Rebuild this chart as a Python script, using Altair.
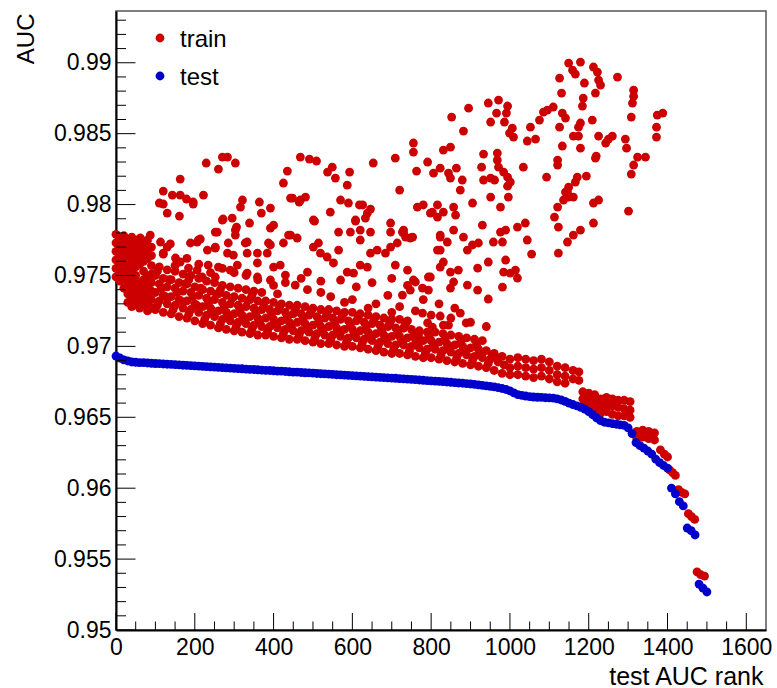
import altair as alt
import pandas as pd

RED = "#cc0000"
BLUE = "#0000cc"
FONT = "Liberation Sans"

X_DOMAIN = [0, 1650]
Y_DOMAIN = [0.95, 0.99365]

# test AUC, one value every 10 ranks (rank 0 .. 1500)
test_auc = [
    0.96932, 0.96918, 0.96905, 0.96897, 0.96890, 0.96888, 0.96886, 0.96885, 0.96883, 0.96881,
    0.96879, 0.96878, 0.96876, 0.96874, 0.96873, 0.96871, 0.96869, 0.96867, 0.96866, 0.96864,
    0.96862, 0.96861, 0.96859, 0.96857, 0.96855, 0.96854, 0.96852, 0.96850, 0.96849, 0.96847,
    0.96845, 0.96843, 0.96842, 0.96840, 0.96838, 0.96837, 0.96835, 0.96833, 0.96831, 0.96830,
    0.96828, 0.96826, 0.96825, 0.96823, 0.96821, 0.96819, 0.96818, 0.96816, 0.96814, 0.96813,
    0.96811, 0.96809, 0.96807, 0.96806, 0.96804, 0.96802, 0.96800, 0.96799, 0.96797, 0.96795,
    0.96794, 0.96792, 0.96790, 0.96788, 0.96787, 0.96785, 0.96783, 0.96782, 0.96780, 0.96778,
    0.96776, 0.96775, 0.96773, 0.96771, 0.96769, 0.96767, 0.96765, 0.96763, 0.96761, 0.96759,
    0.96757, 0.96755, 0.96753, 0.96751, 0.96749, 0.96747, 0.96745, 0.96742, 0.96740, 0.96737,
    0.96735, 0.96732, 0.96729, 0.96725, 0.96722, 0.96718, 0.96714, 0.96709, 0.96703, 0.96696,
    0.96686, 0.96672, 0.96660, 0.96654, 0.96650, 0.96646, 0.96643, 0.96641, 0.96640, 0.96638,
    0.96637, 0.96635, 0.96630, 0.96622, 0.96612, 0.96600, 0.96590, 0.96580, 0.96570, 0.96558,
    0.96540, 0.96518, 0.96495, 0.96477, 0.96465, 0.96460, 0.96455, 0.96451, 0.96447, 0.96443,
    0.96425, 0.96385, 0.96322, 0.96300, 0.96283, 0.96262, 0.96240, 0.96205, 0.96180, 0.96160,
    0.96142, 0.96001, 0.95960, 0.95905, 0.95875, 0.95719, 0.95700, 0.95670, 0.95324, 0.95295,
    0.95268,
]
test_rank = list(range(0, 10 * len(test_auc), 10))

# train AUC: (rank, auc)
red_band_left = [
    (0, 0.9779), (0, 0.9773), (0, 0.9767), (0, 0.9761), (0, 0.9755), (0, 0.9749),
    (10, 0.9776), (10, 0.9770), (10, 0.9764), (10, 0.9758), (10, 0.9752), (10, 0.9746),
    (20, 0.9778), (20, 0.9772), (20, 0.9766), (20, 0.9760), (20, 0.9754), (20, 0.9748), (20, 0.9741),
    (30, 0.9775), (30, 0.9769), (30, 0.9763), (30, 0.9757), (30, 0.9751), (30, 0.9744), (30, 0.9737), (30, 0.9731),
    (40, 0.9777), (40, 0.9771), (40, 0.9765), (40, 0.9759), (40, 0.9753), (40, 0.9747), (40, 0.9740), (40, 0.9734), (40, 0.9728),
    (50, 0.9774), (50, 0.9768), (50, 0.9762), (50, 0.9756), (50, 0.9750), (50, 0.9743), (50, 0.9736), (50, 0.9730),
    (60, 0.9776), (60, 0.9770), (60, 0.9764), (60, 0.9758), (60, 0.9745), (60, 0.9739), (60, 0.9733), (60, 0.9727),
    (70, 0.9772), (70, 0.9766), (70, 0.9760), (70, 0.9753), (70, 0.9747), (70, 0.9741), (70, 0.9735), (70, 0.9729),
    (80, 0.9775), (80, 0.9768), (80, 0.9762), (80, 0.9749), (80, 0.9743), (80, 0.9737), (80, 0.9731), (80, 0.9725),
    (90, 0.9770), (90, 0.9764), (90, 0.9757), (90, 0.9751), (90, 0.9745), (90, 0.9739), (90, 0.9733), (90, 0.9727),
]

red_band = [
    (100, 0.9726), (110, 0.9732), (100, 0.9738), (110, 0.9744), (100, 0.9750), (110, 0.9756),
    (120, 0.9724), (130, 0.9730), (120, 0.9736), (130, 0.9742), (120, 0.9748), (130, 0.9754),
    (140, 0.9723), (150, 0.9729), (140, 0.9735), (150, 0.9741), (140, 0.9747), (150, 0.9753),
    (160, 0.9721), (170, 0.9727), (160, 0.9733), (170, 0.9739), (160, 0.9745), (170, 0.9751),
    (180, 0.9720), (190, 0.9726), (180, 0.9732), (190, 0.9738), (180, 0.9744), (190, 0.9750),
    (200, 0.9718), (210, 0.9724), (200, 0.9730), (210, 0.9736), (200, 0.9742), (210, 0.9748),
    (220, 0.9716), (230, 0.9722), (220, 0.9728), (230, 0.9734), (220, 0.9740), (230, 0.9746),
    (240, 0.9715), (250, 0.9721), (240, 0.9727), (250, 0.9733), (240, 0.9739), (250, 0.9745),
    (260, 0.9713), (270, 0.9719), (260, 0.9725), (270, 0.9731), (260, 0.9737), (270, 0.9743),
    (280, 0.9712), (290, 0.9718), (280, 0.9724), (290, 0.9730), (280, 0.9736), (290, 0.9742),
    (300, 0.9711), (310, 0.9717), (300, 0.9723), (310, 0.9729), (300, 0.9735), (310, 0.9741),
    (320, 0.9710), (330, 0.9716), (320, 0.9722), (330, 0.9728), (320, 0.9734), (330, 0.9740),
    (340, 0.9709), (350, 0.9715), (340, 0.9721), (350, 0.9727), (340, 0.9733), (350, 0.9739),
    (360, 0.9708), (370, 0.9714), (360, 0.9720), (370, 0.9726), (360, 0.9732), (370, 0.9738),
    (380, 0.9708), (390, 0.9714), (380, 0.9720), (390, 0.9726), (380, 0.9732),
    (400, 0.9707), (410, 0.9713), (400, 0.9719), (410, 0.9725), (400, 0.9731), (410, 0.9737),
    (420, 0.9706), (430, 0.9712), (420, 0.9718), (430, 0.9724), (420, 0.9730),
    (440, 0.9705), (450, 0.9711), (440, 0.9717), (450, 0.9723), (440, 0.9729),
    (460, 0.9705), (470, 0.9711), (460, 0.9717), (470, 0.9723), (460, 0.9729),
    (480, 0.9704), (490, 0.9710), (480, 0.9716), (490, 0.9722), (480, 0.9728),
    (500, 0.9703), (510, 0.9709), (500, 0.9715), (510, 0.9721), (500, 0.9727),
    (520, 0.9702), (530, 0.9708), (520, 0.9714), (530, 0.9720), (520, 0.9726),
    (540, 0.9702), (550, 0.9708), (540, 0.9714), (550, 0.9720), (540, 0.9726),
    (560, 0.9701), (570, 0.9707), (560, 0.9713), (570, 0.9719), (560, 0.9725),
    (580, 0.9700), (590, 0.9706), (580, 0.9712), (590, 0.9718), (580, 0.9724),
    (600, 0.9700), (610, 0.9706), (600, 0.9712), (610, 0.9718), (600, 0.9724),
    (620, 0.9699), (630, 0.9705), (620, 0.9711), (630, 0.9717), (620, 0.9723),
    (640, 0.9698), (650, 0.9704), (640, 0.9710), (650, 0.9716), (640, 0.9722),
    (660, 0.9697), (670, 0.9703), (660, 0.9709), (670, 0.9715), (660, 0.9721),
    (680, 0.9696), (690, 0.9702), (680, 0.9708), (690, 0.9714), (680, 0.9720),
    (700, 0.9695), (710, 0.9701), (700, 0.9707), (710, 0.9713), (700, 0.9719),
    (720, 0.9695), (730, 0.9701), (720, 0.9707), (730, 0.9713), (720, 0.9719),
    (740, 0.9694), (750, 0.9700), (740, 0.9706), (750, 0.9712), (740, 0.9718),
    (760, 0.9693), (770, 0.9699), (760, 0.9705), (770, 0.9711),
    (780, 0.9692), (790, 0.9698), (780, 0.9704), (790, 0.9710),
    (800, 0.9692), (810, 0.9698), (800, 0.9704), (810, 0.9710),
    (820, 0.9691), (830, 0.9697), (820, 0.9703), (830, 0.9709),
    (840, 0.9690), (850, 0.9696), (840, 0.9702), (850, 0.9708),
    (860, 0.9689), (870, 0.9695), (860, 0.9701), (870, 0.9707),
    (880, 0.9688), (890, 0.9694), (880, 0.9700), (890, 0.9706),
    (900, 0.9687), (910, 0.9693), (900, 0.9699), (910, 0.9705),
    (920, 0.9686), (930, 0.9692), (920, 0.9698), (930, 0.9704),
    (940, 0.9685), (950, 0.9691), (940, 0.9697),
    (960, 0.9683), (970, 0.9689), (960, 0.9695),
    (980, 0.9681), (985, 0.9687), (980, 0.9693),
]

red_band_fill = [
    (105, 0.9729), (125, 0.9735), (115, 0.9741), (135, 0.9747), (105, 0.9753),
    (145, 0.9726), (165, 0.9732), (155, 0.9738), (175, 0.9744),
    (185, 0.9723), (205, 0.9729), (195, 0.9735), (215, 0.9741), (185, 0.9747),
    (225, 0.9719), (245, 0.9725), (235, 0.9731), (255, 0.9737),
    (265, 0.9716), (285, 0.9722), (275, 0.9728), (295, 0.9734), (265, 0.9740),
    (305, 0.9714), (325, 0.9720), (315, 0.9726), (335, 0.9732),
    (345, 0.9712), (365, 0.9718), (355, 0.9724), (375, 0.9730), (345, 0.9736),
    (385, 0.9711), (405, 0.9716), (395, 0.9723), (415, 0.9728),
    (425, 0.9709), (445, 0.9714), (435, 0.9721), (455, 0.9726),
    (465, 0.9708), (485, 0.9713), (475, 0.9719), (495, 0.9725),
    (505, 0.9706), (525, 0.9711), (515, 0.9718), (535, 0.9723),
    (545, 0.9705), (565, 0.9710), (555, 0.9716), (575, 0.9722),
    (585, 0.9703), (605, 0.9709), (595, 0.9715), (615, 0.9721),
    (625, 0.9702), (645, 0.9707), (635, 0.9714), (655, 0.9719),
    (665, 0.9700), (685, 0.9705), (675, 0.9712), (695, 0.9717),
    (705, 0.9698), (725, 0.9704), (715, 0.9710), (735, 0.9716),
    (745, 0.9697), (765, 0.9702), (755, 0.9708),
    (785, 0.9695), (805, 0.9701), (795, 0.9707),
    (825, 0.9694), (845, 0.9699), (835, 0.9705),
    (865, 0.9692), (885, 0.9697), (875, 0.9703),
    (905, 0.9690), (925, 0.9695), (915, 0.9701),
    (945, 0.9688), (965, 0.9692), (955, 0.9694),
]

red_clusters = [
    (1000, 0.9691), (1000, 0.9685), (1000, 0.9680),
    (1020, 0.9692), (1020, 0.9686), (1020, 0.9680),
    (1040, 0.9691), (1040, 0.9685), (1040, 0.9679),
    (1060, 0.9690), (1060, 0.9684), (1060, 0.9678),
    (1080, 0.9691), (1080, 0.9685), (1080, 0.9679),
    (1100, 0.9689), (1100, 0.9683), (1100, 0.9677),
    (1120, 0.9686), (1120, 0.9680), (1120, 0.9675),
    (1140, 0.9685), (1140, 0.9679), (1140, 0.9674),
    (1160, 0.9683), (1160, 0.9677),
    (1175, 0.9682), (1175, 0.9676),
    (1185, 0.9668), (1185, 0.9663), (1185, 0.9658),
    (1200, 0.9667), (1200, 0.9662), (1200, 0.9657),
    (1215, 0.9666), (1215, 0.9661), (1215, 0.9656),
    (1230, 0.9663), (1230, 0.9658), (1230, 0.9653),
    (1245, 0.9664), (1245, 0.9659), (1245, 0.9654),
    (1260, 0.9663), (1260, 0.9658), (1260, 0.9652),
    (1275, 0.9662), (1275, 0.9657), (1275, 0.9651),
    (1290, 0.9662), (1290, 0.9656), (1290, 0.9651),
    (1305, 0.9661), (1305, 0.9655), (1305, 0.9650),
    (1322, 0.9640), (1322, 0.9635), (1337, 0.9641), (1337, 0.9636),
    (1352, 0.9640), (1352, 0.9635), (1367, 0.9639), (1367, 0.9634),
    (1382, 0.9627), (1392, 0.9624), (1400, 0.9622),
    (1405, 0.9613), (1413, 0.9611), (1420, 0.9609),
    (1428, 0.9599), (1436, 0.9597), (1444, 0.9596),
    (1453, 0.9582), (1461, 0.9580), (1469, 0.9578),
    (1475, 0.9541), (1484, 0.9539), (1494, 0.9538),
]

red_scatter = [
    (229, 0.98293), (260, 0.98250), (270, 0.98335), (283, 0.98335), (303, 0.98293),
    (120, 0.98095), (110, 0.98011), (120, 0.98004), (130, 0.97940), (143, 0.98067),
    (163, 0.98180), (163, 0.98067), (161, 0.97919), (179, 0.98039), (196, 0.98018),
    (196, 0.98004), (222, 0.98067), (252, 0.97806), (272, 0.97898), (295, 0.97905),
    (306, 0.97841), (316, 0.97982), (321, 0.98032), (339, 0.97870), (364, 0.98018),
    (369, 0.97940), (392, 0.97975), (392, 0.97834), (400, 0.97855), (425, 0.98152),
    (435, 0.98236), (443, 0.98046), (448, 0.98046), (468, 0.98335), (465, 0.98018),
    (481, 0.98053), (491, 0.98321), (509, 0.98307), (504, 0.97884), (537, 0.98229),
    (549, 0.98264), (557, 0.98187), (544, 0.97947), (570, 0.98032), (587, 0.98137),
    (593, 0.98229), (590, 0.98011), (608, 0.97884), (565, 0.97806), (618, 0.97997),
    (626, 0.97997), (638, 0.97940), (646, 0.97968), (633, 0.97905), (620, 0.97820),
    (653, 0.98293), (697, 0.97870), (709, 0.98328), (720, 0.98102), (697, 0.97806),
    (714, 0.97729), (620, 0.97750), (425, 0.97729), (460, 0.97764), (438, 0.97785),
    (387, 0.97729), (252, 0.97700), (285, 0.97729), (333, 0.97736), (303, 0.97785),
    (62, 0.97764), (87, 0.97785), (113, 0.97736), (138, 0.97722), (189, 0.97729),
    (206, 0.97736), (214, 0.97757), (257, 0.97806), (270, 0.97891), (303, 0.97820),
    (443, 0.97785), (468, 0.98032), (501, 0.97891), (595, 0.97806), (608, 0.97891),
    (646, 0.97806), (727, 0.97806), (735, 0.97771), (798, 0.97940), (816, 0.97912),
    (823, 0.97771),
    (120, 0.97658), (151, 0.97623), (209, 0.97750), (232, 0.97679), (252, 0.97693),
    (163, 0.97595), (184, 0.97552), (206, 0.97538), (234, 0.97573), (260, 0.97559),
    (219, 0.97489), (252, 0.97489), (283, 0.97658), (298, 0.97644), (290, 0.97538),
    (308, 0.97573), (328, 0.97729), (333, 0.97658), (359, 0.97658), (384, 0.97658),
    (359, 0.97588), (392, 0.97715), (400, 0.97559), (417, 0.97573), (333, 0.97517),
    (359, 0.97489), (392, 0.97468), (430, 0.97503), (455, 0.97432), (486, 0.97524),
    (501, 0.97700), (514, 0.97729), (519, 0.97658), (536, 0.97630), (552, 0.97588),
    (565, 0.97679), (587, 0.97524), (603, 0.97517), (620, 0.97573), (638, 0.97559),
    (570, 0.97468), (646, 0.97658), (663, 0.97679), (684, 0.97658), (697, 0.97700),
    (709, 0.97573), (730, 0.97799), (753, 0.97771), (755, 0.97468), (778, 0.97411),
    (798, 0.97489), (823, 0.97559), (823, 0.97679),
    (1149, 0.98998), (1179, 0.99005), (1159, 0.98948), (1166, 0.98920), (1212, 0.98970),
    (1222, 0.98934), (1126, 0.98892), (1225, 0.98878), (1230, 0.98843), (1273, 0.98899),
    (1189, 0.98857), (1131, 0.98786), (1217, 0.98786), (1314, 0.98807), (1314, 0.98763),
    (1311, 0.98716), (1186, 0.98751), (1184, 0.98695), (895, 0.98680), (852, 0.98617),
    (945, 0.98716), (971, 0.98737), (994, 0.98695), (991, 0.98645), (966, 0.98645),
    (951, 0.98582), (986, 0.98582), (882, 0.98518), (1006, 0.98539), (1009, 0.98476),
    (999, 0.98504), (1052, 0.98546), (1075, 0.98596), (1085, 0.98652), (1095, 0.98666),
    (1110, 0.98688), (1044, 0.98448), (1065, 0.98462), (1133, 0.98645), (1141, 0.98610),
    (1126, 0.98546), (1179, 0.98575), (1174, 0.98546), (1209, 0.98596), (1161, 0.98483),
    (1174, 0.98483), (1133, 0.98413), (1179, 0.98398), (1225, 0.98483), (1243, 0.98434),
    (1250, 0.98462), (1260, 0.98483), (1293, 0.98462), (1296, 0.98398), (1308, 0.98617),
    (1374, 0.98631), (1388, 0.98645), (1372, 0.98546), (1372, 0.98476), (1324, 0.98335),
    (1344, 0.98335), (1314, 0.98279), (1308, 0.98215), (1217, 0.98328), (1219, 0.98342),
    (1194, 0.98201), (1171, 0.98194), (1166, 0.98159), (1149, 0.98123), (1141, 0.98088),
    (1149, 0.98053), (1121, 0.98314), (1121, 0.98279), (1093, 0.98194), (1034, 0.98264),
    (968, 0.98363), (968, 0.98314), (971, 0.98264), (984, 0.98229), (994, 0.98194),
    (1001, 0.98159), (994, 0.98130), (933, 0.98356), (928, 0.98264), (933, 0.98173),
    (951, 0.98187), (961, 0.98173), (864, 0.98257), (879, 0.98173), (874, 0.98102),
    (844, 0.98222), (849, 0.98187), (806, 0.98222), (823, 0.98257), (831, 0.98384),
    (849, 0.98405), (755, 0.98434), (755, 0.98370), (791, 0.98300), (763, 0.98236),
    (951, 0.98053), (996, 0.98053), (1161, 0.98053), (1146, 0.98088),
    (765, 0.97982), (780, 0.97997), (816, 0.97997), (857, 0.97982), (905, 0.98011),
    (976, 0.97982), (1121, 0.97982), (1136, 0.98032), (1212, 0.98011), (1225, 0.98032),
    (1301, 0.97954), (803, 0.97947), (831, 0.97947), (862, 0.97926), (1113, 0.97912),
    (1212, 0.97870), (730, 0.97820), (747, 0.97764), (823, 0.97785), (841, 0.97736),
    (857, 0.97820), (882, 0.97771), (930, 0.97855), (958, 0.97736), (981, 0.97736),
    (976, 0.97806), (989, 0.97820), (1019, 0.97841), (1039, 0.97870), (1044, 0.97750),
    (1123, 0.97841), (1146, 0.97736), (1161, 0.97785), (1179, 0.97820), (1055, 0.97651),
    (1123, 0.97658), (816, 0.97679), (831, 0.97595), (892, 0.97679), (905, 0.97715),
    (920, 0.97729), (945, 0.97595), (989, 0.97609), (984, 0.97524), (1001, 0.97517),
    (1014, 0.97538), (1019, 0.97482), (981, 0.97418), (849, 0.97524), (869, 0.97538),
    (918, 0.97552), (740, 0.97538), (760, 0.97454), (793, 0.97489), (849, 0.97411),
    (857, 0.97454), (892, 0.97432), (918, 0.97397), (945, 0.97334), (793, 0.97397),
    (747, 0.97397), (727, 0.97362), (778, 0.97235), (823, 0.97214), (874, 0.97235),
    (889, 0.97165), (791, 0.97165), (803, 0.97136), (831, 0.97150), (844, 0.97150),
    (730, 0.97129), (768, 0.97080),
    (486, 0.9740), (520, 0.9738), (545, 0.9735), (600, 0.9733), (660, 0.9730),
    (690, 0.9736), (720, 0.9728), (760, 0.9725), (800, 0.9722), (850, 0.9720),
    (900, 0.9717), (940, 0.9714), (610, 0.9742), (650, 0.9745), (700, 0.9748),
    (740, 0.9743), (780, 0.9733), (820, 0.9730), (860, 0.9727), (700, 0.9724),
    (640, 0.9727), (580, 0.9731), (520, 0.9746), (470, 0.9748), (430, 0.9745),
    (400, 0.9743), (360, 0.9747), (330, 0.9750), (300, 0.9752), (270, 0.9755),
    (240, 0.9752), (210, 0.9758), (180, 0.9762), (150, 0.9757), (120, 0.9765),
    (130, 0.9770),
]

legend_labels = ["train", "test"]

x_major = [0, 200, 400, 600, 800, 1000, 1200, 1400, 1600]
x_minor = [50, 100, 150, 250, 300, 350, 450, 500, 550, 650, 700, 750, 850, 900, 950,
           1050, 1100, 1150, 1250, 1300, 1350, 1450, 1500, 1550]
y_major = [0.95, 0.955, 0.96, 0.965, 0.97, 0.975, 0.98, 0.985, 0.99]
y_minor = [0.951, 0.952, 0.953, 0.954, 0.956, 0.957, 0.958, 0.959,
           0.961, 0.962, 0.963, 0.964, 0.966, 0.967, 0.968, 0.969,
           0.971, 0.972, 0.973, 0.974, 0.976, 0.977, 0.978, 0.979,
           0.981, 0.982, 0.983, 0.984, 0.986, 0.987, 0.988, 0.989,
           0.991, 0.992, 0.993]

# ---------------------------------------------------------------------------
train_df = pd.DataFrame(red_band_left + red_band + red_band_fill + red_clusters + red_scatter,
                        columns=["rank", "auc"])
test_df = pd.DataFrame({"rank": test_rank, "auc": test_auc})

xs = alt.Scale(domain=X_DOMAIN, nice=False, zero=False)
ys = alt.Scale(domain=Y_DOMAIN, nice=False, zero=False)

x_axis = alt.Axis(
    values=x_major, format="d", grid=False, ticks=False, domain=True, domainColor="black",
    domainWidth=2, labelFont=FONT, labelFontSize=23, labelColor="black",
    labelPadding=6, labelFlush=False, labelOverlap=False,
    title="test AUC rank", titleFont=FONT, titleFontSize=25,
    titleFontWeight="normal", titleColor="black", titleAlign="right",
    titleBaseline="alphabetic", titleX=647, titleY=54,
)
y_axis = alt.Axis(
    values=y_major, format=".3~f", grid=False, ticks=False, domain=True,
    domainColor="black", domainWidth=2, labelFont=FONT, labelFontSize=23,
    labelColor="black", labelPadding=5, labelFlush=False, labelOverlap=False,
    title="AUC", titleFont=FONT, titleFontSize=24, titleFontWeight="normal",
    titleColor="black", titleAngle=270, titleAlign="right",
    titleBaseline="alphabetic", titleX=-83, titleY=2,
)

pt = dict(filled=True, shape="circle", size=78, opacity=1, strokeWidth=0)

train = alt.Chart(train_df).mark_point(color=RED, **pt).encode(
    x=alt.X("rank:Q", scale=xs, axis=x_axis),
    y=alt.Y("auc:Q", scale=ys, axis=y_axis),
)
test = alt.Chart(test_df).mark_point(color=BLUE, **pt).encode(
    x=alt.X("rank:Q", scale=xs, axis=x_axis),
    y=alt.Y("auc:Q", scale=ys, axis=y_axis),
)


def yticks(vals, length):
    return alt.Chart(pd.DataFrame({"auc": vals})).mark_rule(
        color="black", strokeWidth=1
    ).encode(y=alt.Y("auc:Q", scale=ys, axis=y_axis), x=alt.value(0), x2=alt.value(length))


def xticks(vals, length):
    return alt.Chart(pd.DataFrame({"rank": vals})).mark_rule(
        color="black", strokeWidth=1
    ).encode(x=alt.X("rank:Q", scale=xs, axis=x_axis), y=alt.value(619), y2=alt.value(619 - length))


def legend_entry(label, color, ypix):
    d = pd.DataFrame({"label": [label]})
    p = alt.Chart(d).mark_point(color=color, **pt).encode(x=alt.value(44), y=alt.value(ypix))
    t = alt.Chart(d).mark_text(
        align="left", baseline="middle", font=FONT, fontSize=24, color="black"
    ).encode(x=alt.value(64), y=alt.value(ypix + 2), text="label:N")
    return p + t


chart = alt.layer(
    train, test,
    yticks(y_major, 19.5), yticks(y_minor, 10),
    xticks(x_major, 17), xticks(x_minor, 8.5),
    legend_entry(legend_labels[0], RED, 27),
    legend_entry(legend_labels[1], BLUE, 65),
).properties(
    width=650, height=619,
    padding={"left": 116, "top": 11, "right": 11, "bottom": 58},
    autosize=alt.AutoSizeParams(type="none"),
    background="white",
).configure_view(stroke="#555555", strokeWidth=1.5)

chart.save("out.html", embed_options={"renderer": "svg", "actions": False})
